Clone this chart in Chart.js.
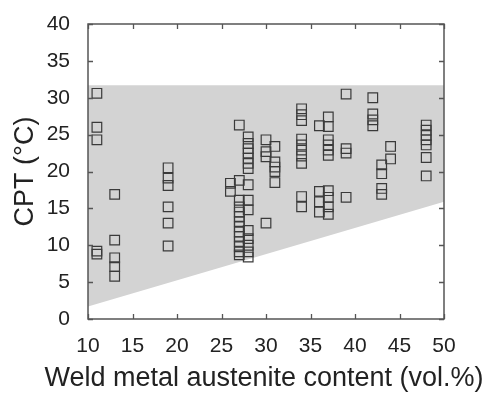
<!DOCTYPE html>
<html>
<head>
<meta charset="utf-8">
<script src="https://cdn.jsdelivr.net/npm/chart.js@4/dist/chart.umd.min.js"></script>
<style>
  html, body { margin: 0; padding: 0; background: #fff; }
  #wrap { width: 486px; height: 395px; }
</style>
</head>
<body>
<div id="wrap"><canvas id="grafico" width="486" height="395"></canvas></div>
<script>
// weld metal austenite content (vol.%) of each column of measurements
const austenite = [11, 13, 19, 26, 27, 28, 30, 31, 34, 36, 37, 39, 42, 43, 44, 48]

// CPT values (°C) read per column, same order as austenite
const cpt = [
    [30.6, 26.0, 24.3, 9.2, 8.8],
    [16.9, 10.7, 8.3, 7.1, 5.8],
    [20.5, 19.1, 18.1, 15.2, 13.0, 9.9],
    [18.4, 17.3],
    [26.3, 18.8, 16.1, 15.2, 14.5, 13.9, 13.2, 12.5, 11.8, 11.2, 10.5, 9.8, 9.1, 8.7],
    [24.7, 23.8, 23.1, 22.5, 21.8, 21.1, 20.4, 18.2, 16.1, 14.8, 12.0, 10.9, 10.0, 9.1, 8.4],
    [24.3, 22.7, 22.0, 13.0],
    [23.4, 21.3, 20.6, 20.0, 18.5],
    [28.5, 27.7, 26.9, 24.4, 23.6, 22.9, 22.1, 21.1, 16.6, 15.2],
    [26.2, 17.3, 15.9, 14.5],
    [27.4, 26.1, 24.3, 23.6, 22.9, 22.2, 17.4, 16.5, 15.2, 14.2],
    [30.5, 23.1, 22.5, 16.5],
    [30.0, 27.8, 27.0, 26.2],
    [20.9, 19.7, 17.7, 16.9],
    [23.4, 21.7],
    [26.3, 25.6, 24.9, 24.3, 23.6, 21.9, 19.4]
]

// corners of the gray band
const bandX = [10, 10, 50, 50]
const bandY = [1.7, 31.7, 31.7, 15.9]

const xTicks = [10, 15, 20, 25, 30, 35, 40, 45, 50]
const yTicks = [0, 5, 10, 15, 20, 25, 30, 35, 40]

const tituloX = 'Weld metal austenite content (vol.%)'
const tituloY = 'CPT (°C)'

const pontos = []
austenite.forEach((x, i) => {
    cpt[i].forEach(y => pontos.push({ x: x, y: y }))
})

const faixa = bandX.map((x, i) => ({ x: x, y: bandY[i] }))

const fonte = 'Liberation Sans, Arial, sans-serif'
const corEixo = '#555'

// ticks pointing inward on all four sides + frame
const ticksInternos = {
    id: 'ticksInternos',
    afterDraw(chart) {
        const { ctx, chartArea: a, scales } = chart
        const len = 5
        ctx.save()
        ctx.strokeStyle = corEixo
        ctx.lineWidth = 1.3
        ctx.beginPath()
        xTicks.forEach(v => {
            const px = Math.round(scales.x.getPixelForValue(v)) + 0.5
            ctx.moveTo(px, a.bottom); ctx.lineTo(px, a.bottom - len)
            ctx.moveTo(px, a.top); ctx.lineTo(px, a.top + len)
        })
        yTicks.forEach(v => {
            const py = Math.round(scales.y.getPixelForValue(v)) + 0.5
            ctx.moveTo(a.left, py); ctx.lineTo(a.left + len, py)
            ctx.moveTo(a.right, py); ctx.lineTo(a.right - len, py)
        })
        ctx.stroke()
        ctx.lineWidth = 1.5
        ctx.strokeRect(a.left, a.top, a.right - a.left, a.bottom - a.top)

        // x title is wider than the plot, so Chart.js would squeeze it
        ctx.fillStyle = '#222'
        ctx.font = '27px ' + fonte
        ctx.textAlign = 'center'
        ctx.textBaseline = 'middle'
        ctx.fillText(tituloX, (a.left + a.right) / 2 - 2, 379)
        ctx.restore()
    }
}

const config = {
    type: 'scatter',
    data: {
        datasets: [
            {
                label: 'CPT',
                data: pontos,
                pointStyle: 'rect',
                pointRadius: 6.8,
                pointHoverRadius: 6.8,
                backgroundColor: 'rgba(0,0,0,0)',
                borderColor: '#3a3a3a',
                borderWidth: 1.2,
                order: 1
            },
            {
                label: 'faixa',
                type: 'line',
                data: faixa,
                fill: 'shape',
                backgroundColor: '#d3d3d3',
                borderWidth: 0,
                pointRadius: 0,
                order: 2
            }
        ]
    },
    options: {
        responsive: false,
        animation: false,
        layout: { padding: { top: 24, right: 42, left: 0, bottom: 0 } },
        plugins: {
            legend: { display: false },
            tooltip: { enabled: false }
        },
        scales: {
            x: {
                type: 'linear',
                min: 10,
                max: 50,
                afterFit: s => { s.height = 76 },
                afterBuildTicks: s => { s.ticks = xTicks.map(v => ({ value: v })) },
                grid: { display: false },
                border: { display: false },
                ticks: {
                    color: '#222',
                    padding: 7,
                    maxRotation: 0,
                    font: { family: fonte, size: 21 }
                },
                title: { display: false }
            },
            y: {
                type: 'linear',
                min: 0,
                max: 40,
                afterFit: s => { s.width = 88 },
                afterBuildTicks: s => { s.ticks = yTicks.map(v => ({ value: v })) },
                grid: { display: false },
                border: { display: false },
                ticks: {
                    color: '#222',
                    padding: 10,
                    font: { family: fonte, size: 21 }
                },
                title: {
                    display: true,
                    text: tituloY,
                    color: '#222',
                    padding: { top: 9, bottom: 0 },
                    font: { family: fonte, size: 27 }
                }
            }
        }
    },
    plugins: [ticksInternos]
}

const contexto = document.getElementById('grafico').getContext('2d')
const meuGrafico = new Chart(contexto, config)
</script>
</body>
</html>
